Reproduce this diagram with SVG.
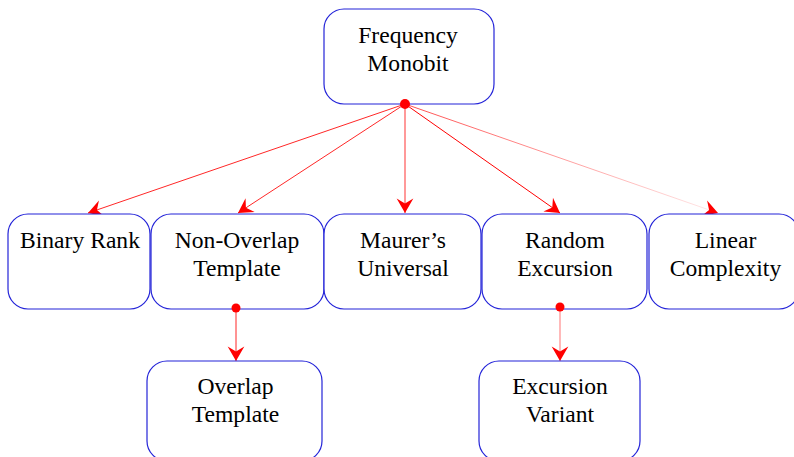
<svg xmlns="http://www.w3.org/2000/svg" width="794" height="457" viewBox="0 0 794 457">
<style>
.box{fill:#fff;stroke:#2323d8;stroke-width:1.2}
.t{font-family:'Liberation Serif','Times New Roman','DejaVu Serif',serif;font-size:23.6px;fill:#000;text-anchor:middle}
.e{fill:none;stroke:#ff0000;stroke-width:1}
.dot{fill:#ff0000}
</style>
<defs>
<marker id="ah" markerUnits="userSpaceOnUse" markerWidth="20" markerHeight="20" viewBox="-14 -9 16 18" refX="0" refY="0" orient="auto">
<path d="M0,0 L-13,-7.5 L-8.5,0 L-13,7.5 Z" fill="#ff0000"/>
</marker>
<linearGradient id="fade" gradientUnits="userSpaceOnUse" x1="405" y1="104" x2="718" y2="213">
<stop offset="0" stop-color="#ff0000" stop-opacity="0.7"/>
<stop offset="1" stop-color="#ff0000" stop-opacity="0.08"/>
</linearGradient>
</defs>
<g id="connectors">
<line class="e" x1="405" y1="104" x2="88" y2="213" stroke-opacity="0.85" marker-end="url(#ah)"/>
<line class="e" x1="405" y1="104" x2="238" y2="213" stroke-opacity="0.85" marker-end="url(#ah)"/>
<line class="e" x1="405" y1="104" x2="405" y2="213" stroke-opacity="0.8" marker-end="url(#ah)"/>
<line class="e" x1="405" y1="104" x2="560" y2="213" stroke-width="1.2" marker-end="url(#ah)"/>
<line x1="405" y1="104" x2="718" y2="213" stroke="url(#fade)" stroke-width="1" marker-end="url(#ah)"/>
<line class="e" x1="236" y1="308" x2="236" y2="361" stroke-opacity="0.85" marker-end="url(#ah)"/>
<line class="e" x1="560" y1="307" x2="560" y2="361" stroke-opacity="0.55" marker-end="url(#ah)"/>
</g>
<g id="freq">
<rect class="box" x="324" y="9" width="170" height="95" rx="20"/>
<text class="t" x="408" y="43">Frequency</text>
<text class="t" x="408" y="71">Monobit</text>
</g>
<g id="binary">
<rect class="box" x="8" y="214" width="142" height="95" rx="20"/>
<text class="t" x="80" y="248">Binary Rank</text>
</g>
<g id="nonoverlap">
<rect class="box" x="151" y="214" width="173" height="95" rx="20"/>
<text class="t" x="237" y="248">Non-Overlap</text>
<text class="t" x="237" y="276">Template</text>
</g>
<g id="maurer">
<rect class="box" x="324" y="214" width="157" height="95" rx="20"/>
<text class="t" x="403" y="248">Maurer’s</text>
<text class="t" x="403" y="276">Universal</text>
</g>
<g id="random">
<rect class="box" x="482" y="214" width="165" height="95" rx="20"/>
<text class="t" x="565" y="248">Random</text>
<text class="t" x="565" y="276">Excursion</text>
</g>
<g id="linear">
<rect class="box" x="649" y="214" width="150" height="95" rx="20"/>
<text class="t" x="725.5" y="248">Linear</text>
<text class="t" x="725.5" y="276">Complexity</text>
</g>
<g id="overlap">
<rect class="box" x="147" y="361" width="175" height="100" rx="20"/>
<text class="t" x="235.5" y="394">Overlap</text>
<text class="t" x="235.5" y="422">Template</text>
</g>
<g id="variant">
<rect class="box" x="479" y="361" width="161" height="100" rx="20"/>
<text class="t" x="560" y="394">Excursion</text>
<text class="t" x="560" y="422">Variant</text>
</g>
<g id="dots">
<circle class="dot" cx="405" cy="104" r="5"/>
<circle class="dot" cx="236" cy="308" r="4.5"/>
<circle class="dot" cx="560" cy="307" r="4.5"/>
</g>
</svg>
